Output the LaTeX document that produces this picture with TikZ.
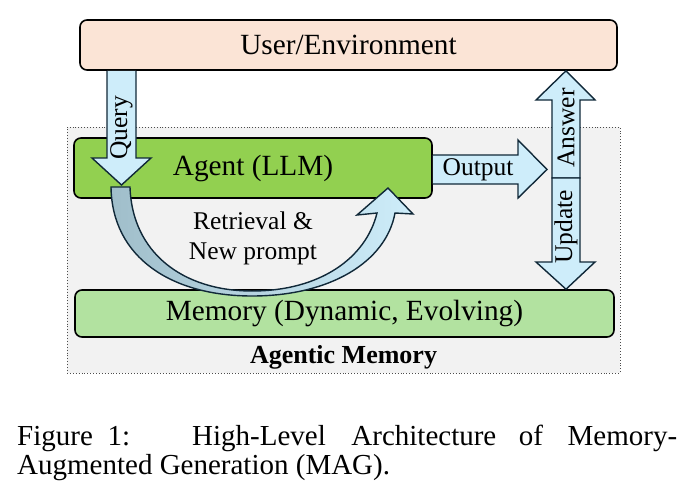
\documentclass[tikz,border=0pt]{standalone}
\usepackage{fontspec}
\setmainfont{Liberation Serif}
\usetikzlibrary{calc}
\definecolor{userpink}{RGB}{251,228,214}
\definecolor{agentgreen}{RGB}{146,208,80}
\definecolor{memgreen}{RGB}{178,226,160}
\definecolor{bggray}{RGB}{242,242,242}
\definecolor{arrowblue}{RGB}{206,237,250}
\definecolor{arrowgray}{RGB}{160,190,202}
\definecolor{arrowline}{RGB}{16,40,56}

\begin{document}
\begin{tikzpicture}[x=1pt,y=-1pt,
    box/.style={draw=black,line width=1.6pt,rounded corners=7pt,inner sep=0pt},
    bigtext/.style={font=\fontsize{29.3}{35}\selectfont},
    smalltext/.style={font=\fontsize{25.5}{30}\selectfont},
    captext/.style={anchor=base west,inner sep=0pt,font=\fontsize{29}{32}\selectfont},
    fat/.style={draw=arrowline,line width=1.4pt,fill=arrowblue,line join=miter}]
    \useasboundingbox (0,0) rectangle (692,503);
    % boxes
    \node [draw=black!70,dotted,line width=0.9pt,fill=bggray,minimum width=553pt,minimum height=246pt] (agentic) at (343.5,250) {};
    \node [box,fill=userpink,minimum width=537pt,minimum height=50pt,bigtext] (user) at (348.5,45) {User/Environment};
    \node [box,fill=agentgreen,minimum width=358pt,minimum height=60pt,bigtext] (agent) at (253,168) {Agent (LLM)};
    \node [box,fill=memgreen,minimum width=539pt,minimum height=47pt,bigtext] (memory) at (344.5,313.5) {Memory (Dynamic, Evolving)};
    \node [font=\bfseries\fontsize{26}{30}\selectfont] (label) at (343.5,357) {Agentic Memory};
    % block arrows
    \draw [fat] (107,0 |- user.south) -- (107,158) -- (92,158) -- (121.5,185) -- (151,158) -- (136,158) -- (136,0 |- user.south);
    \draw [fat] (agent.east |- 0,155) -- (518,155) -- (518,140) -- (547,169.5) -- (518,198) -- (518,184) -- (agent.east |- 0,184);
    \draw [fat] (552,178) -- (552,100) -- (536,100) -- (566,0 |- user.south) -- (595,100) -- (580,100) -- (580,178) -- cycle;
    \draw [fat] (552,178) -- (552,262) -- (536,262) -- (566,0 |- memory.north) -- (595,262) -- (580,262) -- (580,178) -- cycle;
    \draw [draw=arrowline,line width=1.4pt,left color=arrowgray,right color=arrowblue,line join=miter]
        (111,187) .. controls (112,258) and (172,296) .. (252,296)
        .. controls (330,296) and (386,262) .. (395,213) -- (413,214) -- (388,188) -- (357,215) -- (377,213)
        .. controls (366,258) and (320,291) .. (252,291)
        .. controls (182,291) and (132,252) .. (130,187) -- cycle;
    % labels
    \node [smalltext,rotate=90] (query) at (121.5,128) {Query};
    \node [smalltext] (output) at (478,170) {Output};
    \node [smalltext,rotate=90] (answer) at (566,128) {Answer};
    \node [smalltext,rotate=90] (update) at (566,227) {Update};
    \node [smalltext,align=center] (retrieval) at (253,238) {Retrieval \&\\New prompt};
    % caption
    \node [captext] (cap1) at (17,445)
        {\hbox to 660pt{Figure\hspace{\stretch{15}}1:\hspace{\stretch{63}}High-Level\hspace{\stretch{26}}Architecture\hspace{\stretch{23}}of\hspace{\stretch{25}}Memory-}};
    \node [captext] (cap2) at (17,474) {Augmented Generation (MAG).};
\end{tikzpicture}
\end{document}
